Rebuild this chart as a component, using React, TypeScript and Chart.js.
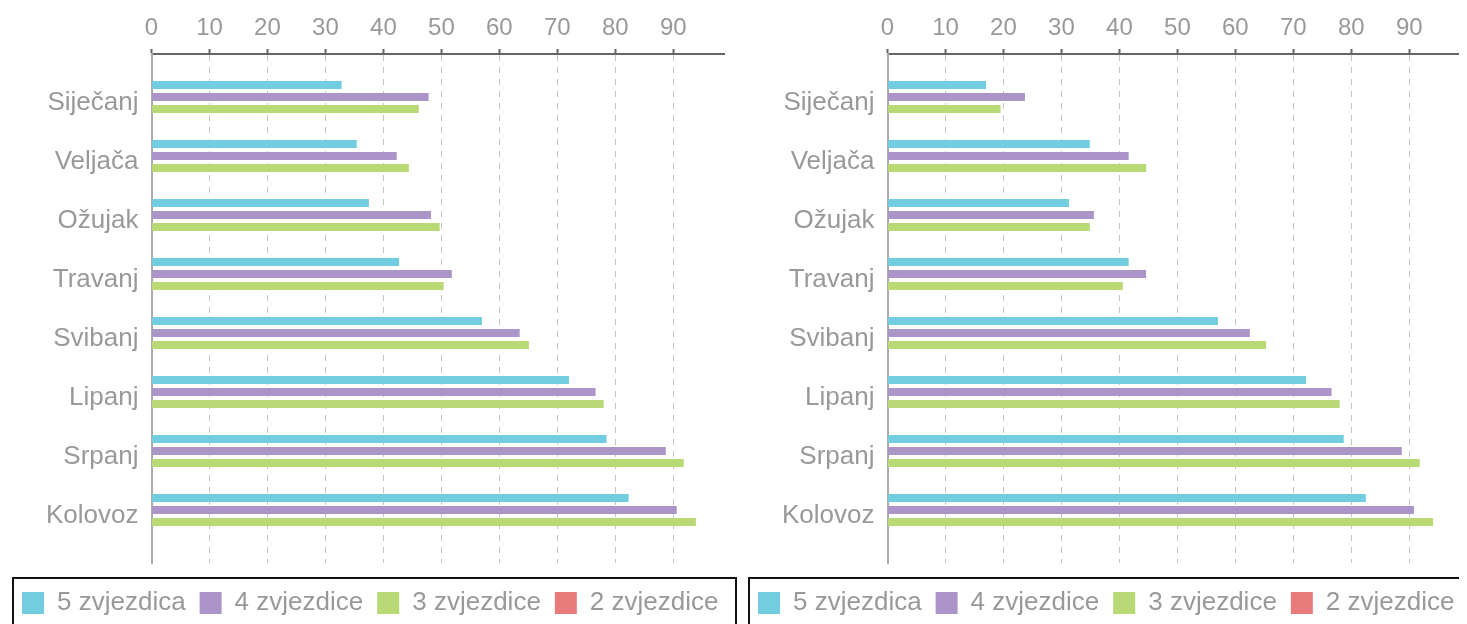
import React, { useEffect, useRef } from 'react';
import { Chart, registerables } from 'chart.js';

Chart.register(...registerables);

// ---- data ----
const months = ['Siječanj', 'Veljača', 'Ožujak', 'Travanj', 'Svibanj', 'Lipanj', 'Srpanj', 'Kolovoz'];
const seriesNames = ['5 zvjezdica', '4 zvjezdice', '3 zvjezdice', '2 zvjezdice'];
const seriesColors = ['#72cde0', '#aa94c8', '#b9d876', '#e87b7b'];
const xTickValues = [0, 10, 20, 30, 40, 50, 60, 70, 80, 90];
const xMax = 98.8;

const leftFiveStars = [32.8, 35.4, 37.5, 42.7, 57.0, 72.0, 78.5, 82.3];
const leftFourStars = [47.8, 42.3, 48.2, 51.8, 63.5, 76.6, 88.7, 90.6];
const leftThreeStars = [46.1, 44.4, 49.7, 50.4, 65.1, 78.0, 91.8, 93.9];
const leftTwoStars: number[] = [];

const rightFiveStars = [17.0, 34.9, 31.3, 41.6, 57.0, 72.2, 78.7, 82.5];
const rightFourStars = [23.7, 41.6, 35.6, 44.6, 62.5, 76.6, 88.7, 90.8];
const rightThreeStars = [19.5, 44.6, 34.9, 40.6, 65.3, 78.0, 91.8, 94.1];
const rightTwoStars: number[] = [];

const FONT = 'Arial, "Liberation Sans", sans-serif';

const legendFrame = {
  id: 'legendFrame',
  afterDraw(chart: any) {
    const ctx = chart.ctx;
    ctx.save();
    ctx.strokeStyle = '#111';
    ctx.lineWidth = 2;
    ctx.strokeRect(5, chart.legend.top + 15, chart.width - 13, 120);
    ctx.restore();
  },
};

function Panel({ series }: { series: number[][] }) {
  const ref = useRef<HTMLCanvasElement | null>(null);

  useEffect(() => {
    if (!ref.current) return;
    const chart = new Chart(ref.current, {
      type: 'bar',
      data: {
        datasets: series.map((vals, k) => ({
          label: seriesNames[k],
          data: vals.map((v, i) => ({ x: v, y: i })),
          backgroundColor: seriesColors[k],
          borderColor: seriesColors[k],
          borderWidth: 0,
          xAxisID: 'x',
          yAxisID: 'y',
          categoryPercentage: 0.8136,
          barPercentage: 0.667,
        })),
      },
      options: {
        indexAxis: 'y',
        animation: false,
        responsive: false,
        devicePixelRatio: 1,
        layout: { padding: 0 },
        scales: {
          x: {
            type: 'linear',
            position: 'top',
            min: 0,
            max: xMax,
            offset: false,
            afterFit: (s: any) => {
              s.height = 46;
            },
            afterBuildTicks: (s: any) => {
              s.ticks = xTickValues.map((v) => ({ value: v }));
            },
            ticks: {
              font: { family: FONT, size: 24 },
              color: '#999',
              padding: 6,
              maxRotation: 0,
              autoSkip: false,
            },
            grid: {
              color: '#c4c4c4',
              lineWidth: 1,
              tickLength: 5,
              tickColor: '#666',
              tickWidth: 2,
              tickBorderDash: [],
              offset: false,
            },
            border: { display: true, color: '#666', width: 2, dash: [6, 6] },
          },
          y: {
            type: 'linear',
            position: 'left',
            reverse: true,
            offset: false,
            min: -0.8305,
            max: 7.7966,
            afterFit: (s: any) => {
              s.width = 143.5;
            },
            afterBuildTicks: (s: any) => {
              s.ticks = months.map((_, i) => ({ value: i }));
            },
            ticks: {
              callback: (v: any) => months[v],
              font: { family: FONT, size: 26 },
              color: '#999',
              padding: 13,
              autoSkip: false,
            },
            grid: { display: false, drawTicks: false, offset: false },
            border: { display: true, color: '#aaa', width: 2 },
          },
          yR: {
            type: 'linear',
            position: 'right',
            display: true,
            offset: false,
            grid: { display: false, drawTicks: false },
            border: { display: false },
            ticks: { display: false },
            afterFit: (s: any) => {
              s.width = 19.7;
            },
          },
        },
        plugins: {
          legend: {
            position: 'bottom',
            align: 'start',
            title: {
              display: true,
              text: '',
              font: { size: 10, lineHeight: 1 },
              padding: { top: 3, bottom: 0 },
            },
            labels: {
              boxWidth: 22,
              boxHeight: 22,
              padding: 14,
              color: '#999',
              font: { family: FONT, size: 26 },
            },
          },
          tooltip: { enabled: false },
        },
      } as any,
      plugins: [legendFrame],
    });
    return () => chart.destroy();
  }, [series]);

  return <canvas ref={ref} width={736} height={618} style={{ display: 'block', width: 736, height: 618 }} />;
}

const leftSeries = [leftFiveStars, leftFourStars, leftThreeStars, leftTwoStars];
const rightSeries = [rightFiveStars, rightFourStars, rightThreeStars, rightTwoStars];

export default function App() {
  return (
    <>
      <style>{`html, body { overflow: hidden; }`}</style>
      <div style={{ display: 'flex', width: 1472 }}>
        <Panel series={leftSeries} />
        <Panel series={rightSeries} />
      </div>
    </>
  );
}
